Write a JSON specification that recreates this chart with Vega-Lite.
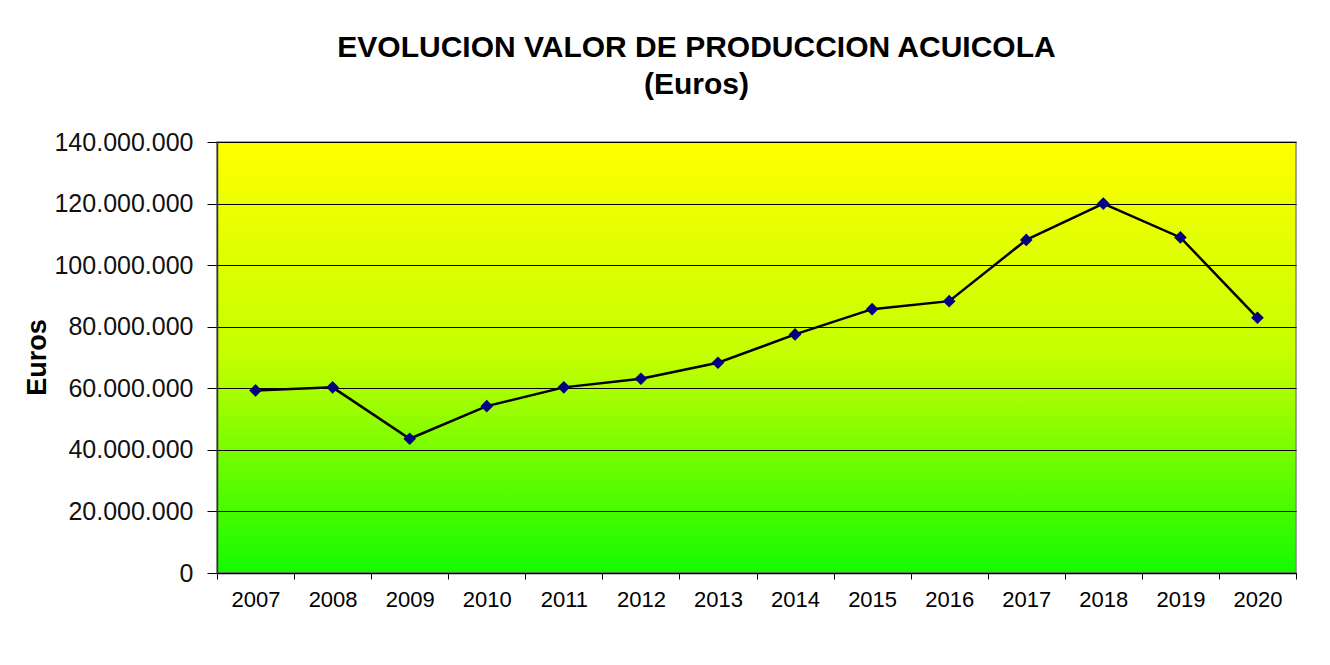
{
  "$schema": "https://vega.github.io/schema/vega-lite/v6.json",
  "autosize": {"type": "none"},
  "width": 1079,
  "height": 431,
  "padding": {"left": 217, "top": 142, "right": 34, "bottom": 92},
  "background": "white",
  "config": {
    "locale": {"number": {"decimal": ",", "thousands": ".", "grouping": [3], "currency": ["", " €"]}},
    "font": "Liberation Sans",
    "view": {
      "fill": {"gradient": "linear", "x1": 0, "y1": 0, "x2": 0, "y2": 1, "stops": [{"offset": 0, "color": "#ffff00"}, {"offset": 0.5, "color": "#c4ff00"}, {"offset": 1, "color": "#14fa00"}]},
      "stroke": "#888888",
      "strokeWidth": 1.5
    }
  },
  "title": {
    "text": ["EVOLUCION  VALOR DE PRODUCCION  ACUICOLA", "(Euros)"],
    "font": "Liberation Sans",
    "fontSize": 30,
    "fontWeight": "bold",
    "color": "#000000",
    "anchor": "middle",
    "frame": "group",
    "lineHeight": 37,
    "dx": -60,
    "dy": 10,
    "offset": 40
  },
  "data": {
    "values": [
      {"year": "2007", "euros": 59300000},
      {"year": "2008", "euros": 60300000},
      {"year": "2009", "euros": 43600000},
      {"year": "2010", "euros": 54200000},
      {"year": "2011", "euros": 60300000},
      {"year": "2012", "euros": 63100000},
      {"year": "2013", "euros": 68300000},
      {"year": "2014", "euros": 77500000},
      {"year": "2015", "euros": 85700000},
      {"year": "2016", "euros": 88300000},
      {"year": "2017", "euros": 108200000},
      {"year": "2018", "euros": 120000000},
      {"year": "2019", "euros": 109000000},
      {"year": "2020", "euros": 82900000}
    ]
  },
  "encoding": {
    "x": {
      "field": "year",
      "type": "ordinal",
      "scale": {"type": "band", "paddingInner": 0, "paddingOuter": 0},
      "axis": {
        "title": null,
        "labelAngle": 0,
        "labelFontSize": 22,
        "labelColor": "#000000",
        "labelPadding": 10,
        "tickBand": "extent",
        "tickSize": 6,
        "tickColor": "#000000",
        "domainColor": "#000000",
        "domainWidth": 1.5,
        "grid": false
      }
    },
    "y": {
      "field": "euros",
      "type": "quantitative",
      "scale": {"domain": [0, 140000000], "nice": false},
      "axis": {
        "title": "Euros",
        "titleFontSize": 27,
        "titleFontWeight": "bold",
        "titleColor": "#000000",
        "titleAngle": -90,
        "titleAlign": "center",
        "titleBaseline": "middle",
        "titleX": -180,
        "titleY": 215,
        "values": [0, 20000000, 40000000, 60000000, 80000000, 100000000, 120000000, 140000000],
        "format": ",.0f",
        "labelFontSize": 25,
        "labelColor": "#111111",
        "labelPadding": 14,
        "tickSize": 10,
        "tickColor": "#000000",
        "domainColor": "#333333",
        "domainWidth": 1.5,
        "grid": true,
        "gridColor": "#000000",
        "gridWidth": 1.2,
        "gridOpacity": 1
      }
    }
  },
  "layer": [
    {"mark": {"type": "line", "color": "#000000", "strokeWidth": 2.5}},
    {"mark": {"type": "point", "shape": "diamond", "filled": true, "color": "#000080", "size": 160, "opacity": 1}}
  ]
}
